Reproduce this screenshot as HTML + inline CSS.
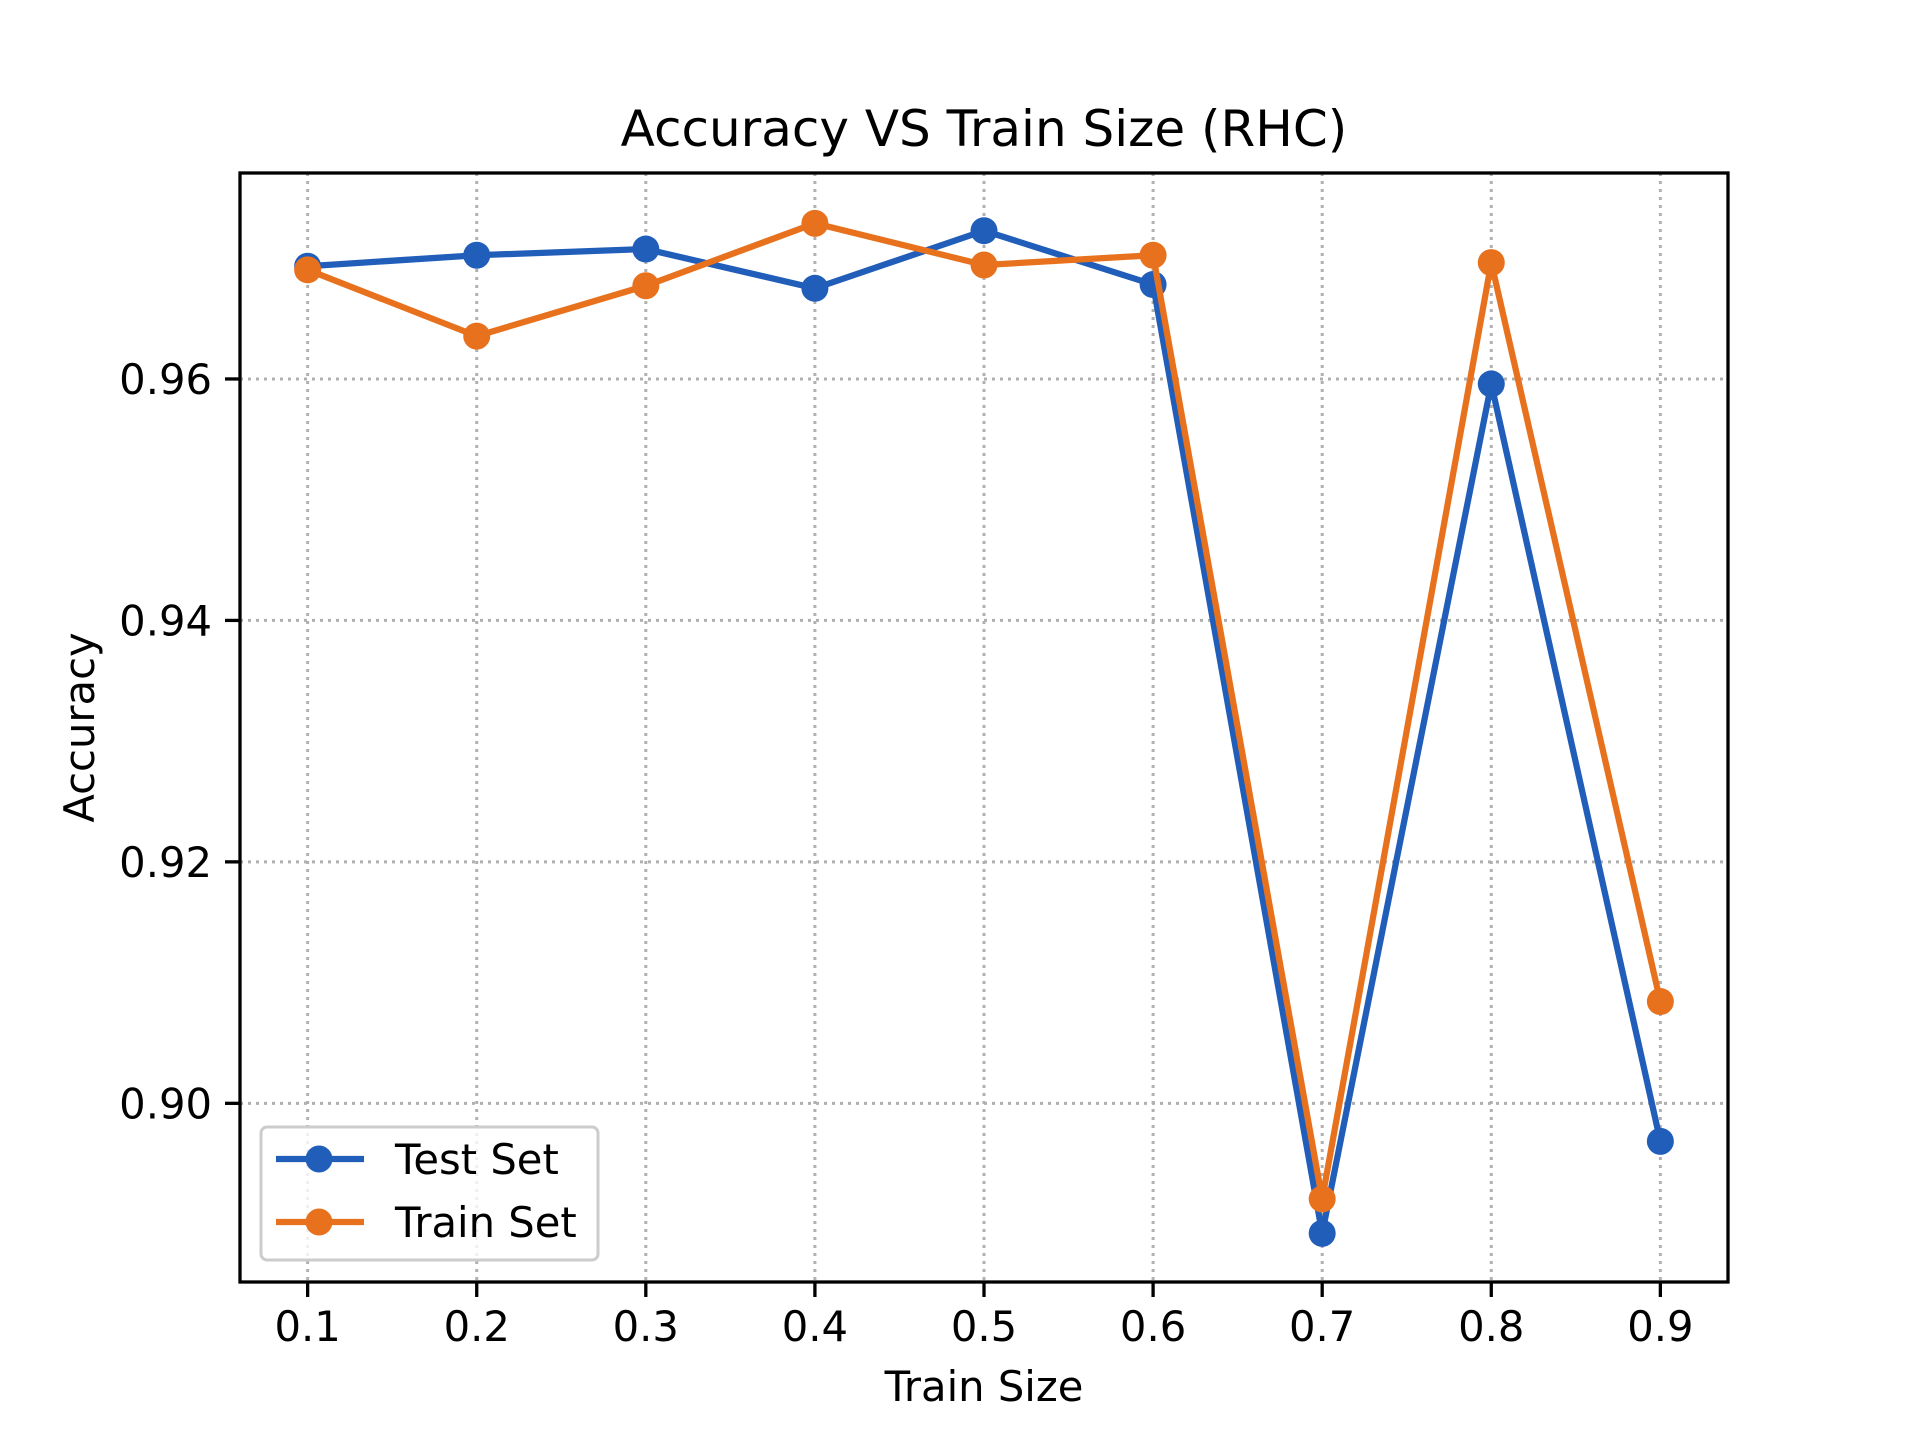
<!DOCTYPE html>
<html><head><meta charset="utf-8"><style>html,body{margin:0;padding:0;background:#fff}svg{display:block}</style></head>
<body>
<svg id="chart" width="1920" height="1440" xmlns="http://www.w3.org/2000/svg" font-family="DejaVu Sans, Liberation Sans, sans-serif"></svg>
<script>
const xValues = [0.1,0.2,0.3,0.4,0.5,0.6,0.7,0.8,0.9];
const testSet = [0.96934,0.97025,0.97076,0.96751,0.97228,0.96782,0.88923,0.95959,0.89685];
const trainSet = [0.96904,0.96355,0.96772,0.97289,0.96944,0.97025,0.89208,0.96964,0.90843];
const xTicks = [0.1,0.2,0.3,0.4,0.5,0.6,0.7,0.8,0.9];
const yTicks = [0.90,0.92,0.94,0.96];

const L=240,R=1728,T=173,B=1282;
const xMin=0.06,xMax=0.94,yMin=0.88520,yMax=0.97706;
const X=v=>L+(v-xMin)/(xMax-xMin)*(R-L);
const Y=v=>B-(v-yMin)/(yMax-yMin)*(B-T);
const svg=document.getElementById('chart');
const NS='http://www.w3.org/2000/svg';
function mk(tag,attrs,parent){const e=document.createElementNS(NS,tag);for(const k in attrs)e.setAttribute(k,attrs[k]);(parent||svg).appendChild(e);return e;}

xTicks.forEach(t=>{
  const g=mk('line',{x1:X(t),x2:X(t),y1:T,y2:B,stroke:'#b0b0b0','stroke-width':3,'stroke-dasharray':'3,5'});
  
  
  const tk=mk('line',{x1:X(t),x2:X(t),y1:B,y2:B+15,stroke:'#000','stroke-width':3.3});
  
  
  const tx=mk('text',{x:X(t),y:1341,'font-size':41.7,'text-anchor':'middle',fill:'#000'});
  tx.textContent=t.toFixed(1);
  
  
});
yTicks.forEach(t=>{
  const g=mk('line',{x1:L,x2:R,y1:Y(t),y2:Y(t),stroke:'#b0b0b0','stroke-width':3,'stroke-dasharray':'3,5'});
  
  
  const tk=mk('line',{x1:L-15,x2:L,y1:Y(t),y2:Y(t),stroke:'#000','stroke-width':3.3});
  
  
  const tx=mk('text',{x:L-28,y:Y(t)+15,'font-size':41.7,'text-anchor':'end',fill:'#000'});
  tx.textContent=t.toFixed(2);
  
  
});

function series(vals,color,name){
  const g=mk('g',{});
  
  
  const pts=vals.map((v,i)=>X(xValues[i])+','+Y(v)).join(' ');
  const pl=mk('polyline',{points:pts,fill:'none',stroke:color,'stroke-width':6.25,'stroke-linejoin':'round'},g);
  
  
  vals.forEach((v,i)=>{
    const c=mk('circle',{cx:X(xValues[i]),cy:Y(v),r:13.5,fill:color},g);
    
    
  });
}
series(testSet,'#215eba','test-set-series');
series(trainSet,'#e8711e','train-set-series');

const sp=mk('rect',{x:L,y:T,width:R-L,height:B-T,fill:'none',stroke:'#000','stroke-width':3.3});



const ti=mk('text',{x:(L+R)/2,y:146,'font-size':50,'text-anchor':'middle',fill:'#000'});
ti.textContent='Accuracy VS Train Size (RHC)';


const xl=mk('text',{x:(L+R)/2,y:1401,'font-size':41.7,'text-anchor':'middle',fill:'#000'});
xl.textContent='Train Size';


const yl=mk('text',{x:0,y:0,'font-size':41.7,'text-anchor':'middle',fill:'#000',transform:'translate(94,'+((T+B)/2)+') rotate(-90)'});
yl.textContent='Accuracy';



const lg=mk('g',{});


const lb=mk('rect',{x:261,y:1127,width:337,height:133,rx:6,fill:'#fff','fill-opacity':0.8,stroke:'#cccccc','stroke-width':3},lg);


[['Test Set','#215eba',1159],['Train Set','#e8711e',1222]].forEach(([lab,col,yy])=>{
  const e=mk('g',{},lg);
  
  
  mk('line',{x1:276,x2:364,y1:yy,y2:yy,stroke:col,'stroke-width':6.25},e);
  mk('circle',{cx:319,cy:yy,r:13.5,fill:col},e);
  const t=mk('text',{x:395,y:yy+15,'font-size':41.7,fill:'#000'},e);
  t.textContent=lab;
});
</script>
</body></html>
